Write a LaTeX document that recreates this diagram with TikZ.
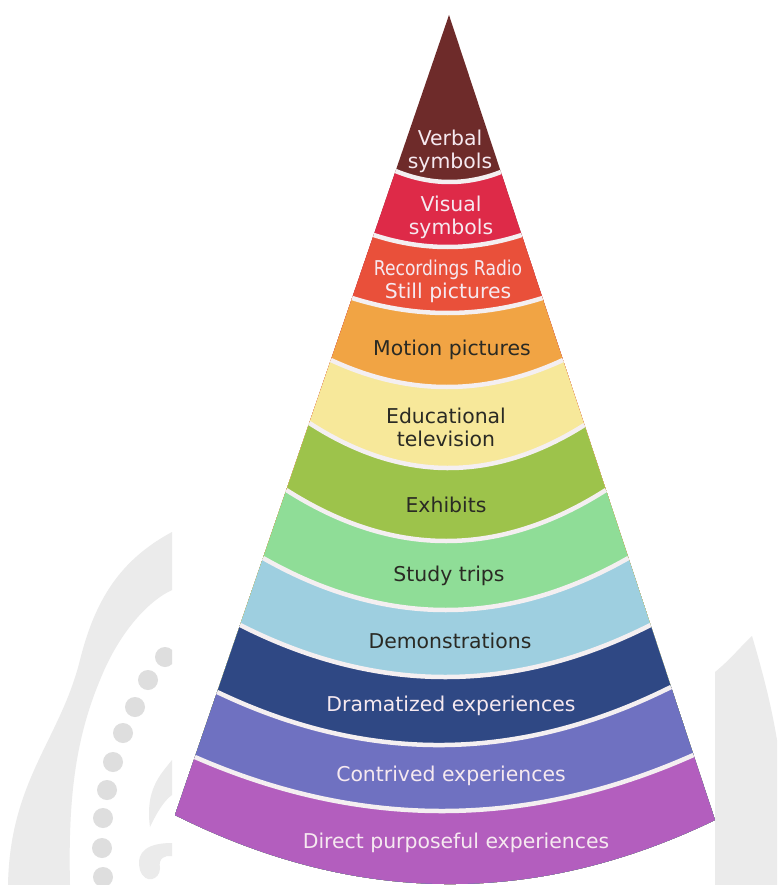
\documentclass[tikz,border=0pt]{standalone}
\usepackage{fontspec}
\setmainfont{DejaVu Sans}
\usetikzlibrary{calc}
\definecolor{cVerb}{HTML}{6E2B2A}
\definecolor{cVis}{HTML}{DE2A48}
\definecolor{cRec}{HTML}{E9503A}
\definecolor{cMot}{HTML}{F1A444}
\definecolor{cEdu}{HTML}{F7E89A}
\definecolor{cExh}{HTML}{9DC34B}
\definecolor{cStu}{HTML}{8FDD97}
\definecolor{cDem}{HTML}{9ECFE0}
\definecolor{cDra}{HTML}{2F4884}
\definecolor{cCon}{HTML}{6F71C1}
\definecolor{cDir}{HTML}{B35EBE}
\definecolor{sepC}{HTML}{F4EFF1}
\definecolor{lightT}{HTML}{F6E9F0}
\definecolor{darkT}{HTML}{2A2A24}
\definecolor{wmA}{HTML}{EBEBEB}
\definecolor{wmB}{HTML}{DEDEDE}
\begin{document}
\begin{tikzpicture}[x=1pt,y=-1pt,
  lab/.style={font=\fontsize{20.4}{23}\selectfont, align=center, inner sep=0pt},
  lt/.style={lab, text=lightT},
  dt/.style={lab, text=darkT},
  sepline/.style={draw=sepC, line width=4.5pt, line cap=butt}]
\useasboundingbox (0,0) rectangle (777,885);
\fill[white] (0,0) rectangle (777,885);

% faint watermark, left
\begin{scope}
  \clip (0,0) rectangle (172,885);
  \fill[wmA] (172,532) .. controls (120,560) and (95,600) .. (80,660)
     .. controls (60,740) and (10,780) .. (8,885) -- (70,885)
     .. controls (68,800) and (75,740) .. (100,680)
     .. controls (120,630) and (150,600) .. (172,590) -- cycle;
  \foreach \x/\y in {165/657,148/680,135/707,123/733,113/762,107/790,103/818,102/848,103/877}
    \fill[wmB] (\x,\y) circle (10);
  \fill[wmA] (172,760) .. controls (160,775) and (145,790) .. (150,827)
     .. controls (158,810) and (165,800) .. (172,795) -- cycle;
  \fill[wmA] (172,843) .. controls (150,843) and (135,850) .. (140,870)
     .. controls (145,885) and (160,880) .. (160,868)
     .. controls (158,858) and (165,855) .. (172,856) -- cycle;
\end{scope}
% faint watermark, right
\begin{scope}
  \clip (715,0) rectangle (777,885);
  \fill[wmA] (715,885) -- (715,672) .. controls (730,660) and (742,645) .. (752,636)
     .. controls (765,680) and (772,710) .. (777,740) -- (777,885) -- cycle;
\end{scope}

% geometry of the cone
\coordinate (A) at (449,15);
\foreach \i/\yl/\yr/\yc in {1/171/172/182, 2/235/235/247, 3/298/298/313,
   4/360/360/387, 5/423/425/468, 6/490/490/541, 7/558/558/610,
   8/625/625/677, 9/692/687/745, 10/757/755/811, 11/815/820/884} {
  \pgfmathsetmacro\xl{449-0.3425*(\yl-15)}
  \pgfmathsetmacro\xr{449+0.3304*(\yr-15)}
  \pgfmathsetmacro\xc{(\xl+\xr)/2}
  \coordinate (L\i) at (\xl,\yl);
  \coordinate (R\i) at (\xr,\yr);
  \coordinate (C\i) at (\xc,\yc);
  \coordinate (Q\i) at ($2*(C\i)-0.5*(L\i)-0.5*(R\i)$);
  \coordinate (P\i) at ($(L\i)!2/3!(Q\i)$);
  \coordinate (S\i) at ($(R\i)!2/3!(Q\i)$);
}

% bands
\fill[cVerb] (A) -- (R11) .. controls (S11) and (P11) .. (L11) -- cycle;
\foreach \i/\c in {1/cVis,2/cRec,3/cMot,4/cEdu,5/cExh,6/cStu,7/cDem,8/cDra,9/cCon,10/cDir}
  \fill[\c] (L\i) .. controls (P\i) and (S\i) .. (R\i) -- (R11)
     .. controls (S11) and (P11) .. (L11) -- cycle;
% separators
\foreach \i in {1,...,10}
  \draw[sepline] (L\i) .. controls (P\i) and (S\i) .. (R\i);

% labels
\node[lt] (verbal) at (450,151) {Verbal\\symbols};
\node[lt] (visual) at (451,217) {Visual\\symbols};
\node[lt] (rec) at (448,281) {\scalebox{0.84}[1]{Recordings Radio}\\Still pictures};
\node[dt] (motion) at (452,350) {Motion pictures};
\node[dt] (edu) at (446,427) {Educational\\television};
\node[dt] (exh) at (446,505) {Exhibits};
\node[dt] (study) at (449,576) {Study trips};
\node[dt] (demo) at (450,641) {Demonstrations};
\node[lt] (drama) at (451,706) {Dramatized experiences};
\node[lt] (contr) at (451,776) {Contrived experiences};
\node[lt] (direct) at (456,843) {Direct purposeful experiences};
\end{tikzpicture}
\end{document}
